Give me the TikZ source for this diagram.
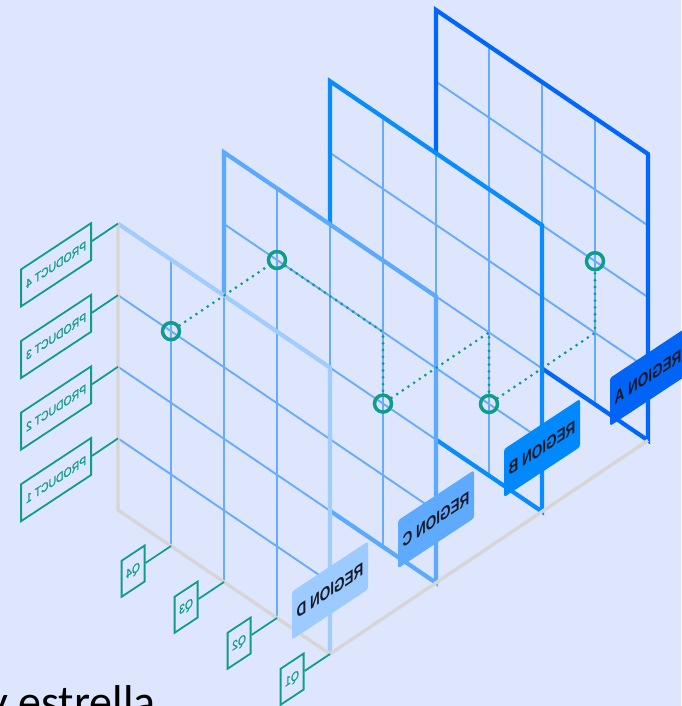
\documentclass[tikz,border=0pt]{standalone}
\usepackage{fontspec}
\usepackage{graphicx}
\setmainfont{Liberation Sans}
\newfontfamily\titlefont{Carlito}
\newfontfamily\medfont{Liberation Sans}[FakeBold=1.1]
\usetikzlibrary{calc}
\definecolor{bg}{RGB}{222,230,253}
\definecolor{gridc}{RGB}{104,172,255}
\definecolor{colD}{RGB}{160,204,255}
\definecolor{colC}{RGB}{92,170,255}
\definecolor{colB}{RGB}{8,140,255}
\definecolor{colA}{RGB}{0,102,255}
\definecolor{lblD}{RGB}{157,202,255}
\definecolor{lblC}{RGB}{94,170,255}
\definecolor{lblB}{RGB}{0,137,255}
\definecolor{lblA}{RGB}{0,100,246}
\definecolor{tealc}{RGB}{16,156,140}
\definecolor{axisc}{RGB}{214,214,214}
\definecolor{inkc}{RGB}{25,25,35}
\newcommand\rtext[1]{\scalebox{0.75}[1]{#1}}
\newcommand\ptext[1]{\scalebox{0.83}[1]{#1}}
\tikzset{
  gridline/.style={draw=gridc, line width=1.9pt},
  planeedge/.style={draw=#1, line width=4.2pt},
  axisline/.style={draw=axisc, line width=3.4pt},
  mirr/.style={cm={-1,-0.66,0,1,(0,0)}},
  rlabel/.style={mirr, rectangle, rounded corners=2.5pt, minimum width=76pt,
    minimum height=48pt, inner sep=0pt, text=inkc,
    font=\bfseries\fontsize{18}{18}\selectfont},
  pbox/.style={mirr, rectangle, draw=tealc, line width=1.8pt, fill=bg,
    minimum width=70pt, minimum height=37pt, inner sep=0pt, anchor=west,
    text=tealc, font=\medfont\fontsize{12.5}{12.5}\selectfont},
  qbox/.style={pbox, minimum width=23pt, minimum height=36pt},
  conn/.style={draw=tealc, line width=1.8pt},
  pdot/.style={circle, draw=tealc, line width=3.5pt, minimum size=17pt, inner sep=0pt},
  dotline/.style={draw=tealc, line width=3.1pt, line cap=round, dash pattern=on 0pt off 6.8pt}
}
\newcommand\drawplane[2]{%
  \fill[bg] (#1,#1) -- (#1+4,#1) -- (#1+4,#1+4) -- (#1,#1+4) -- cycle;
  \foreach \i in {1,2,3} {
    \draw[gridline] (#1+\i,#1) -- (#1+\i,#1+4);
    \draw[gridline] (#1,#1+\i) -- (#1+4,#1+\i);
  }
  \draw[planeedge=#2] (#1,#1) -- (#1+4,#1) -- (#1+4,#1+4) -- (#1,#1+4) -- cycle;
}
\begin{document}
\begin{tikzpicture}[x=1pt,y=1pt]
\useasboundingbox[fill=bg] (0,0) rectangle (681,706);
\begin{scope}[shift={(118,196)}, x={(53pt,-36pt)}, y={(0pt,71.6pt)}]
  % plane A
  \drawplane{6}{colA}
  \node[rlabel, fill=lblA] (rA) at (10,6.887) {\rtext{REGION A}};
  % plane B
  \drawplane{4}{colB}
  \node[rlabel, fill=lblB] (rB) at (8,4.887) {\rtext{REGION B}};
  % plane C
  \drawplane{2}{colC}
  \node[rlabel, fill=lblC] (rC) at (6,2.887) {\rtext{REGION C}};
  % plane D
  \fill[bg] (0,0) -- (4,0) -- (4,4) -- (0,4) -- cycle;
  \foreach \i in {1,2,3} {
    \draw[gridline] (\i,0) -- (\i,4);
    \draw[gridline] (0,\i) -- (4,\i);
  }
  \draw[planeedge=colD] (0,4) -- (4,4) -- (4,0);
  \draw[axisline] (0,4) -- (0,0) -- (4,0) -- (10,6);
  \node[rlabel, fill=lblD] (rD) at (4,0.887) {\rtext{REGION D}};
  % axis points
  \coordinate (a1) at (0,1);
  \coordinate (a2) at (0,2);
  \coordinate (a3) at (0,3);
  \coordinate (a4) at (0,4);
  \coordinate (b4) at (1,0);
  \coordinate (b3) at (2,0);
  \coordinate (b2) at (3,0);
  \coordinate (b1) at (4,0);
  % product labels
  \node[pbox] (p4) at ($(a4)+(-26pt,-17.5pt)$) {\ptext{PRODUCT 4}};
  \node[pbox] (p3) at ($(a3)+(-26pt,-17.5pt)$) {\ptext{PRODUCT 3}};
  \node[pbox] (p2) at ($(a2)+(-26pt,-17.5pt)$) {\ptext{PRODUCT 2}};
  \node[pbox] (p1) at ($(a1)+(-26pt,-17.5pt)$) {\ptext{PRODUCT 1}};
  \draw[conn] (a4) -- (p4.west);
  \draw[conn] (a3) -- (p3.west);
  \draw[conn] (a2) -- (p2.west);
  \draw[conn] (a1) -- (p1.west);
  % quarter labels
  \node[qbox] (q4) at ($(b4)+(-25.5pt,-17pt)$) {\ptext{Q4}};
  \node[qbox] (q3) at ($(b3)+(-25.5pt,-17pt)$) {\ptext{Q3}};
  \node[qbox] (q2) at ($(b2)+(-25.5pt,-17pt)$) {\ptext{Q2}};
  \node[qbox] (q1) at ($(b1)+(-25.5pt,-17pt)$) {\ptext{Q1}};
  \draw[conn] (b4) -- (q4.west);
  \draw[conn] (b3) -- (q3.west);
  \draw[conn] (b2) -- (q2.west);
  \draw[conn] (b1) -- (q1.west);
  % data points
  \node[pdot] (d1) at (1,3) {};
  \node[pdot] (d2) at (3,5) {};
  \node[pdot] (d3) at (5,4) {};
  \node[pdot] (d4) at (7,5) {};
  \node[pdot] (d5) at (9,8) {};
  \coordinate (k1) at (5,5);
  \coordinate (k2) at (7,6);
  \coordinate (k3) at (9,7);
  \draw[dotline] (d1) -- (d2);
  \draw[dotline] (d2) -- (k1) -- (d3);
  \draw[dotline] (d3) -- (k2) -- (d4);
  \draw[dotline] (d4) -- (k3) -- (d5);
\end{scope}
\node[anchor=base west, inner sep=0pt, text=black,
  font=\titlefont\fontsize{46}{46}\selectfont] (title) at (-13,-11) {y estrella};
\end{tikzpicture}
\end{document}
